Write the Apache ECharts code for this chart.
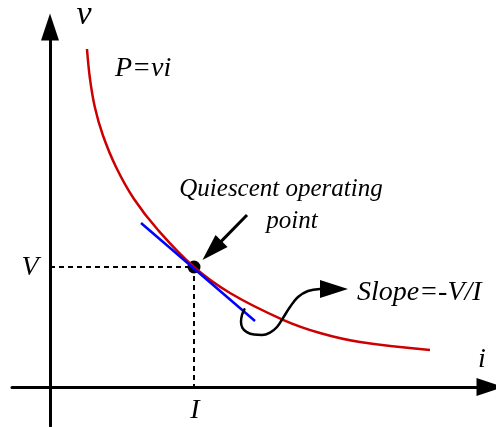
<!DOCTYPE html>
<html>
<head>
<meta charset="utf-8">
<style>
  html, body { margin: 0; padding: 0; background: #fff; }
  #chart { width: 496px; height: 427px; }
</style>
<script src="https://cdn.jsdelivr.net/npm/echarts@6/dist/echarts.min.js"></script>
</head>
<body>
<div id="chart"></div>
<script>
// load line P = v*i (i, v)
const loadCurve = [
  [0.925, 8.45], [1.0, 7.7], [1.12, 7.0], [1.32, 6.3], [1.65, 5.5],
  [2.1, 4.7], [2.7, 3.925], [3.6, 3.0], [4.5, 2.35], [5.825, 1.68],
  [6.75, 1.35], [7.75, 1.125], [9.5, 0.925]
];
const operatingPoint = [3.6, 3.0];
const tangentLine = [[2.275, 4.1], [5.125, 1.65]];
const guideLines = [[0, 3.0], [3.6, 3.0], [3.6, 0]];
const pointerShaft = [[4.925, 4.3], [4.2, 3.56]];
const slopeCurl = [
  [4.86, 1.94], [4.8, 1.8], [4.775, 1.63], [4.81, 1.48], [4.92, 1.37],
  [5.1, 1.31], [5.3, 1.3], [5.5, 1.36], [5.675, 1.5], [5.825, 1.725],
  [6.0, 2.0], [6.2, 2.25], [6.45, 2.4], [6.75, 2.45]
];
const arrowHeads = [[4.05, 3.4125], [7.1, 2.45]];
const noteTexts = ["v", "i", "V", "I", "P=vi", "Quiescent operating", "point", "Slope=-V/I"];
const notePositions = [
  [0.85, 9.2875], [10.8, 0.6875], [-0.5, 2.9875], [3.625, -0.5875],
  [1.625, 7.9625], [5.775, 4.935], [6.05, 4.135], [7.675, 2.3625]
];

const FONT = "'Liberation Serif', 'Times New Roman', serif";
const noteSize = [34, 28, 28, 28, 28, 25, 25, 28];
const noteAlign = ["center", "center", "center", "center", "left", "center", "center", "left"];
const headRotate = [135, -90];
const headSize = [[17, 27], [18, 28]];

const chart = echarts.init(document.getElementById("chart"), null, { renderer: "canvas" });

function hiddenAxis(extra) {
  return Object.assign({
    type: "value",
    axisTick: { show: false },
    axisLabel: { show: false },
    splitLine: { show: false },
    axisLine: {
      show: true,
      onZero: true,
      symbol: ["none", "triangle"],
      symbolSize: [18, 27],
      lineStyle: { color: "#000", width: 3 }
    }
  }, extra);
}

chart.setOption({
  animation: false,
  backgroundColor: "#fff",
  grid: { left: 12, right: 6, top: 27, bottom: 1 },
  xAxis: hiddenAxis({ min: -0.95, max: 11 }),
  yAxis: hiddenAxis({ min: -0.975, max: 9 }),
  series: [
    {
      type: "line",
      data: guideLines,
      symbol: "none",
      lineStyle: { color: "#000", width: 2, type: [5, 4] }
    },
    {
      type: "line",
      data: loadCurve,
      smooth: 0.4,
      symbol: "none",
      lineStyle: { color: "#cc0000", width: 2.5 }
    },
    {
      type: "line",
      data: tangentLine,
      symbol: "none",
      lineStyle: { color: "#0000ff", width: 2.5 }
    },
    {
      type: "line",
      data: slopeCurl,
      smooth: 0.4,
      symbol: "none",
      lineStyle: { color: "#000", width: 2.5, cap: "round" }
    },
    {
      type: "line",
      data: pointerShaft,
      symbol: "none",
      lineStyle: { color: "#000", width: 3 }
    },
    {
      type: "scatter",
      clip: false,
      data: arrowHeads.map((p, k) => ({
        value: p,
        symbol: "triangle",
        symbolRotate: headRotate[k],
        symbolSize: headSize[k]
      })),
      itemStyle: { color: "#000", opacity: 1 }
    },
    {
      type: "scatter",
      data: [operatingPoint],
      symbolSize: 13,
      itemStyle: { color: "#000", opacity: 1 }
    },
    {
      type: "scatter",
      clip: false,
      symbolSize: 0,
      silent: true,
      itemStyle: { opacity: 1 },
      data: noteTexts.map((t, k) => ({
        value: notePositions[k],
        label: {
          show: true,
          position: "inside",
          formatter: t,
          align: noteAlign[k],
          verticalAlign: "middle",
          fontFamily: FONT,
          fontStyle: "italic",
          fontSize: noteSize[k],
          color: "#000",
          textBorderWidth: 0
        }
      }))
    }
  ]
});
</script>
</body>
</html>
